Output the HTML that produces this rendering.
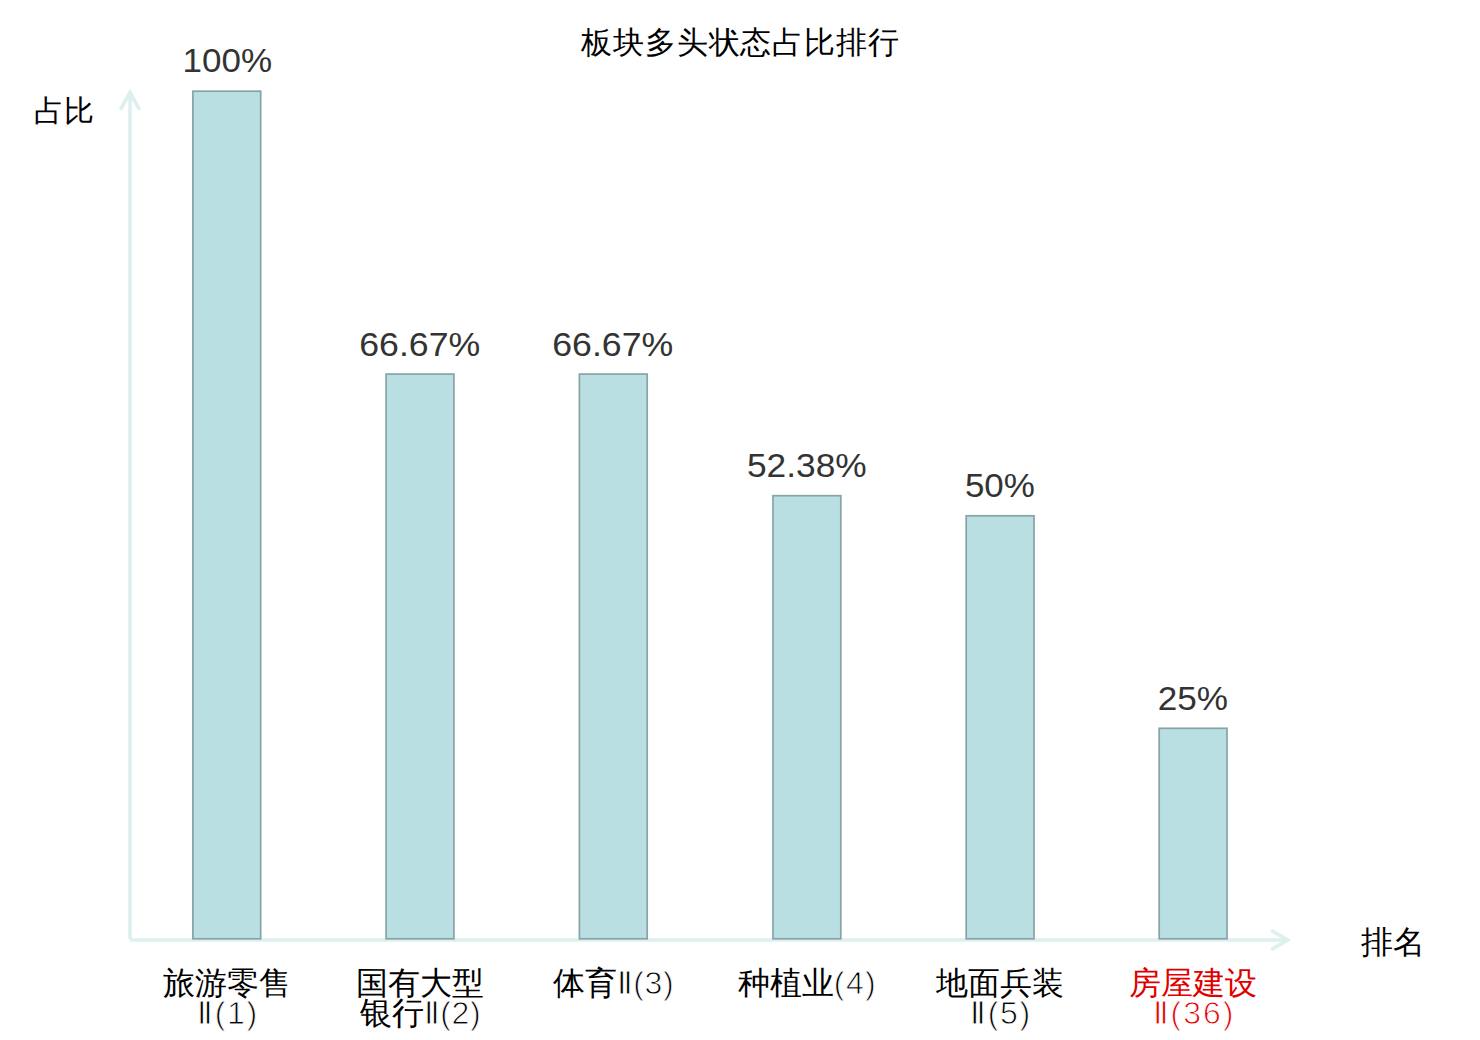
<!DOCTYPE html>
<html>
<head>
<meta charset="utf-8">
<style>
html,body{margin:0;padding:0;background:#fff;width:1480px;height:1040px;overflow:hidden;}
svg{display:block;}
text{font-family:"Liberation Sans", sans-serif;}
.t{font-size:32px;fill:#000;}
.p{font-size:33px;fill:#333;}
.l{font-size:32px;fill:#000;}
.r{fill:#e00000;}
.th{stroke:#fff;stroke-width:0.9;}
</style>
</head>
<body>
<svg width="1480" height="1040" viewBox="0 0 1480 1040">
<text class="t" x="740.4" y="52.6" text-anchor="middle" style="font-size:31px" letter-spacing="0.8">板块多头状态占比排行</text>
<text class="t" x="63.6" y="120.5" text-anchor="middle" style="font-size:30px">占比</text>
<text class="t" x="1393" y="952.5" text-anchor="middle">排名</text>
<g fill="none" stroke="#ddf0ee" stroke-width="3.6" stroke-linecap="butt" stroke-linejoin="miter">
<line x1="130" y1="939.6" x2="130" y2="93"/>
<polyline points="120.3,109.8 130,92.5 139.7,109.8"/>
<line x1="130" y1="940" x2="1286" y2="940"/>
<polyline points="1271.2,930.4 1287.7,940 1271.2,949.6"/>
</g>
<g fill="#badfe2" stroke="#87a3a6" stroke-width="1.7">
<rect x="192.9" y="91.2" width="67.8" height="847.6"/>
<rect x="386.1" y="374.1" width="67.8" height="564.7"/>
<rect x="579.4" y="374.1" width="67.8" height="564.7"/>
<rect x="773.0" y="495.7" width="67.8" height="443.1"/>
<rect x="966.2" y="515.8" width="67.8" height="423.0"/>
<rect x="1159.2" y="728.3" width="67.8" height="210.5"/>
</g>
<g class="p" text-anchor="middle">
<text transform="translate(227.40,72) scale(1.062,1)">100%</text>
<text transform="translate(419.75,356) scale(1.081,1)">66.67%</text>
<text transform="translate(612.75,356) scale(1.081,1)">66.67%</text>
<text transform="translate(806.80,477) scale(1.069,1)">52.38%</text>
<text transform="translate(999.90,497) scale(1.059,1)">50%</text>
<text transform="translate(1192.80,710) scale(1.064,1)">25%</text>
</g>
<g class="l" text-anchor="middle">
<text x="227" y="994">旅游零售</text>
<text x="228" y="1024"><tspan class="th" letter-spacing="1.6">Ⅱ(1)</tspan></text>
<text x="420" y="994">国有大型</text>
<text x="420.5" y="1024">银行<tspan class="th" letter-spacing="0.6">Ⅱ(2)</tspan></text>
<text x="613.5" y="994">体育<tspan class="th" letter-spacing="0.7">Ⅱ(3)</tspan></text>
<text x="807.5" y="994">种植业<tspan class="th" letter-spacing="1.4">(4)</tspan></text>
<text x="1000" y="994">地面兵装</text>
<text x="1001" y="1024"><tspan class="th" letter-spacing="1.6">Ⅱ(5)</tspan></text>
<text class="r" x="1193" y="994">房屋建设</text>
<text class="r" x="1194" y="1024"><tspan class="th" letter-spacing="2">Ⅱ(36)</tspan></text>
</g>
</svg>
</body>
</html>
